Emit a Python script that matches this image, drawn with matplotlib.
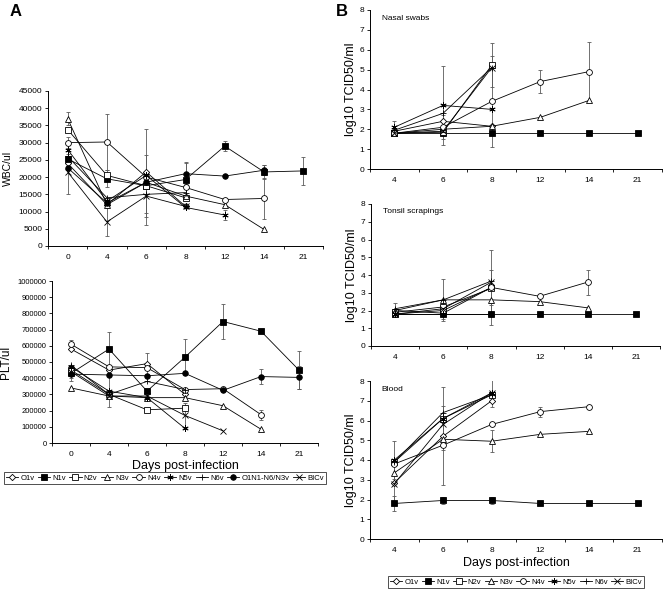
import matplotlib
matplotlib.use("Agg")
import matplotlib.pyplot as plt
from matplotlib.ticker import FuncFormatter
import numpy as np

nan = np.nan

# series (same order everywhere)
series_a = ["O1v", "N1v", "N2v", "N3v", "N4v", "N5v", "N6v", "O1N1-N6/N3v", "BICv"]
series_b = ["O1v", "N1v", "N2v", "N3v", "N4v", "N5v", "N6v", "BICv"]

days_a = ["0", "4", "6", "8", "12", "14", "21"]
days_b = ["4", "6", "8", "12", "14", "21"]

# panel A - white blood cells
wbc_mean = [
    [24000, 12000, 21500, 11500, nan, nan, nan],
    [25300, 19500, 17500, 19300, 29000, 21500, 21800],
    [33800, 20500, 17500, 14000, nan, nan, nan],
    [37000, 12000, 18500, 14500, 12000, 4800, nan],
    [30000, 30200, 20000, 17000, 13500, 13800, nan],
    [28000, 13000, 20500, 11200, 9000, nan, nan],
    [26000, 14000, 15000, 15500, nan, nan, nan],
    [22700, 12500, 18500, 21000, 20300, 22000, nan],
    [21500, 7000, 14500, 11500, nan, nan, nan],
]
wbc_err = [
    [0, 0, 0, 0, 0, 0, 0],
    [1500, 2500, 9000, 5000, 1500, 2000, 4000],
    [0, 0, 0, 0, 0, 0, 0],
    [2000, 0, 0, 0, 0, 0, 0],
    [1500, 8000, 14000, 2500, 0, 6000, 0],
    [0, 0, 0, 0, 1500, 0, 0],
    [0, 0, 0, 0, 0, 0, 0],
    [7500, 0, 0, 3000, 0, 1500, 0],
    [0, 4000, 5000, 0, 0, 0, 0],
]

# panel A - platelets
plt_mean = [
    [580000, 450000, 490000, 300000, nan, nan, nan],
    [430000, 580000, 320000, 530000, 750000, 690000, 450000],
    [450000, 300000, 205000, 215000, nan, nan, nan],
    [340000, 290000, 280000, 280000, 230000, 85000, nan],
    [610000, 470000, 465000, 330000, 335000, 175000, nan],
    [470000, 320000, 280000, 90000, nan, nan, nan],
    [480000, 300000, 380000, 330000, nan, nan, nan],
    [425000, 420000, 415000, 430000, 325000, 410000, 405000],
    [440000, 290000, 290000, 170000, 75000, nan, nan],
]
plt_err = [
    [0, 0, 65000, 0, 0, 0, 0],
    [30000, 105000, 0, 110000, 110000, 10000, 115000],
    [0, 0, 0, 0, 0, 0, 0],
    [0, 0, 0, 0, 0, 0, 0],
    [25000, 0, 0, 0, 0, 30000, 0],
    [0, 100000, 0, 0, 0, 0, 0],
    [0, 0, 0, 0, 0, 0, 0],
    [45000, 0, 0, 0, 0, 45000, 70000],
    [0, 0, 0, 80000, 0, 0, 0],
]

# panel B - virus titres
nasal_mean = [
    [1.9, 2.4, 2.15, nan, nan, nan],
    [1.8, 1.8, 1.8, 1.8, 1.8, 1.8],
    [1.8, 1.85, 5.22, nan, nan, nan],
    [1.8, 2.0, 2.15, 2.6, 3.45, nan],
    [1.8, 2.1, 3.4, 4.4, 4.9, nan],
    [2.1, 3.2, 3.0, nan, nan, nan],
    [1.95, 2.8, 5.1, nan, nan, nan],
    [1.8, 1.9, 5.1, nan, nan, nan],
]
nasal_err = [
    [0, 0, 0, 0, 0, 0],
    [0, 0, 0, 0, 0, 0],
    [0, 0, 1.1, 0, 0, 0],
    [0, 0, 0, 0, 0, 0],
    [0, 0.6, 2.3, 0.6, 1.5, 0],
    [0.3, 2.0, 0, 0, 0, 0],
    [0, 0, 0, 0, 0, 0],
    [0, 0, 0, 0, 0, 0],
]

tonsil_mean = [
    [2.0, 1.85, 3.3, nan, nan, nan],
    [1.8, 1.8, 1.8, 1.8, 1.8, 1.8],
    [1.9, 2.2, 3.25, nan, nan, nan],
    [2.0, 2.6, 2.6, 2.5, 2.15, nan],
    [1.8, 2.0, 3.3, 2.8, 3.6, nan],
    [1.8, 1.8, 1.8, nan, nan, nan],
    [2.1, 2.6, 3.66, nan, nan, nan],
    [1.8, 2.1, 3.6, nan, nan, nan],
]
tonsil_err = [
    [0, 0, 0, 0, 0, 0],
    [0, 0, 0, 0, 0, 0],
    [0, 0, 0, 0, 0, 0],
    [0, 0, 0, 0, 0, 0],
    [0, 0, 1.0, 0, 0.7, 0],
    [0, 0.3, 0.6, 0, 0, 0],
    [0.3, 1.2, 1.75, 0, 0, 0],
    [0, 0, 0, 0, 0, 0],
]

blood_mean = [
    [2.85, 5.2, 7.0, nan, nan, nan],
    [1.8, 1.95, 1.95, 1.8, 1.8, 1.8],
    [3.9, 6.1, 7.3, nan, nan, nan],
    [3.35, 5.05, 4.95, 5.3, 5.45, nan],
    [3.8, 4.75, 5.8, 6.45, 6.7, nan],
    [4.0, 6.1, 7.4, nan, nan, nan],
    [3.9, 6.4, 7.3, nan, nan, nan],
    [2.8, 5.8, 7.4, nan, nan, nan],
]
blood_err = [
    [0, 0, 0, 0, 0, 0],
    [0.4, 0.2, 0.2, 0, 0, 0],
    [0, 1.6, 0, 0, 0, 0],
    [0, 0, 0.55, 0, 0, 0],
    [0, 2.0, 0, 0.25, 0, 0],
    [0.95, 0, 0.7, 0, 0, 0],
    [0, 0, 0, 0, 0, 0],
    [1.05, 0, 0, 0, 0, 0],
]

# marker style for each series
STYLES = {
    "O1v": dict(marker="D", ms=3.2, mfc="white"),
    "N1v": dict(marker="s", ms=3.8, mfc="black"),
    "N2v": dict(marker="s", ms=3.8, mfc="white"),
    "N3v": dict(marker="^", ms=4.0, mfc="white"),
    "N4v": dict(marker="o", ms=4.2, mfc="white"),
    "N5v": dict(marker=(6, 2, 0), ms=4.5, mfc="black"),
    "N6v": dict(marker="+", ms=4.5, mfc="black"),
    "O1N1-N6/N3v": dict(marker="o", ms=4.0, mfc="black"),
    "BICv": dict(marker="x", ms=3.8, mfc="black"),
}

plt.rcParams["font.family"] = ["Liberation Sans", "DejaVu Sans"]

W, H = 664, 590


def px_axes(fig, left, top, right, bottom):
    """Create axes from pixel edges (origin top-left)"""
    return fig.add_axes([left / W, 1 - bottom / H, (right - left) / W, (bottom - top) / H])


def draw_panel(ax, names, days, means, errs, ymax, ystep, ylabel, ylabel_size=7.5, ytick_size=6):
    x = np.arange(len(days))
    for name, m, e in zip(names, means, errs):
        m = np.array(m, dtype=float)
        e = np.array(e, dtype=float)
        e[e == 0] = nan
        ax.errorbar(x, m, yerr=e, fmt="none", ecolor="0.35", elinewidth=0.6,
                    capsize=1.6, capthick=0.6, zorder=2)
        st = STYLES[name]
        ax.plot(x, m, color="black", lw=0.6, marker=st["marker"], ms=st["ms"],
                mfc=st["mfc"], mec="black", mew=0.6, label=name, zorder=3)

    ax.set_xlim(-0.5, len(days) - 0.5)
    ax.set_ylim(0, ymax)
    ax.set_yticks(np.arange(0, ymax + ystep / 2, ystep))
    ax.yaxis.set_major_formatter(FuncFormatter(lambda v, pos: f"{v:g}" if v < 1e5 else f"{int(round(v))}"))
    ax.set_xticks(x)
    ax.set_xticklabels(days)
    ax.set_xticks(np.arange(-0.5, len(days)), minor=True)
    ax.tick_params(axis="x", which="major", length=0, labelsize=6, pad=6)
    ax.tick_params(axis="x", which="minor", length=2.5, width=0.6, direction="out")
    ax.tick_params(axis="y", length=2.5, width=0.6, labelsize=ytick_size, pad=1.5)
    for s in ["top", "right"]:
        ax.spines[s].set_visible(False)
    for s in ["left", "bottom"]:
        ax.spines[s].set_linewidth(0.7)
    ax.set_ylabel(ylabel, fontsize=ylabel_size, labelpad=2)


fig = plt.figure(figsize=(W / 100, H / 100), dpi=100)

ax_wbc = px_axes(fig, 48, 91, 323, 246)
draw_panel(ax_wbc, series_a, days_a, wbc_mean, wbc_err, 45000, 5000, "WBC/ul", 7.5)
ax_wbc.yaxis.set_label_coords((13 - 48) / 275, 0.5)

ax_plt = px_axes(fig, 52, 281, 318, 443)
draw_panel(ax_plt, series_a, days_a, plt_mean, plt_err, 1000000, 100000, "PLT/ul", 8.5, 5.5)
ax_plt.yaxis.set_label_coords((12 - 52) / 266, 0.5)
ax_plt.set_xlabel("Days post-infection", fontsize=9, labelpad=1)

ax_nasal = px_axes(fig, 370, 10, 662, 169)
draw_panel(ax_nasal, series_b, days_b, nasal_mean, nasal_err, 8, 1, "log10 TCID50/ml", 9)
ax_nasal.text(0.04, 0.97, "Nasal swabs", transform=ax_nasal.transAxes, fontsize=6, va="top")

ax_tonsil = px_axes(fig, 371, 204, 660, 346)
draw_panel(ax_tonsil, series_b, days_b, tonsil_mean, tonsil_err, 8, 1, "log10 TCID50/ml", 9)
ax_tonsil.text(0.04, 0.97, "Tonsil scrapings", transform=ax_tonsil.transAxes, fontsize=6, va="top")

ax_blood = px_axes(fig, 370, 381, 662, 539)
draw_panel(ax_blood, series_b, days_b, blood_mean, blood_err, 8, 1, "log10 TCID50/ml", 9)
ax_blood.text(0.04, 0.97, "Blood", transform=ax_blood.transAxes, fontsize=6, va="top")
ax_blood.set_xlabel("Days post-infection", fontsize=9, labelpad=2)

fig.text(10 / W, 1 - 12 / H, "A", fontsize=12, fontweight="bold", va="center")
fig.text(336 / W, 1 - 12 / H, "B", fontsize=12, fontweight="bold", va="center")

legend_kw = dict(ncol=9, fontsize=5.5, frameon=True, fancybox=False, edgecolor="black",
                 handlelength=1.6, handletextpad=0.3, columnspacing=0.45, borderpad=0.25,
                 borderaxespad=0)
h, l = ax_plt.get_legend_handles_labels()
leg = fig.legend(h, l, loc="center", bbox_to_anchor=(165 / W, 1 - 478 / H), **legend_kw)
leg.get_frame().set_linewidth(0.6)
h, l = ax_blood.get_legend_handles_labels()
leg = fig.legend(h, l, loc="center", bbox_to_anchor=(516 / W, 1 - 582 / H), **legend_kw)
leg.get_frame().set_linewidth(0.6)

fig.savefig("out.png", dpi=100)
